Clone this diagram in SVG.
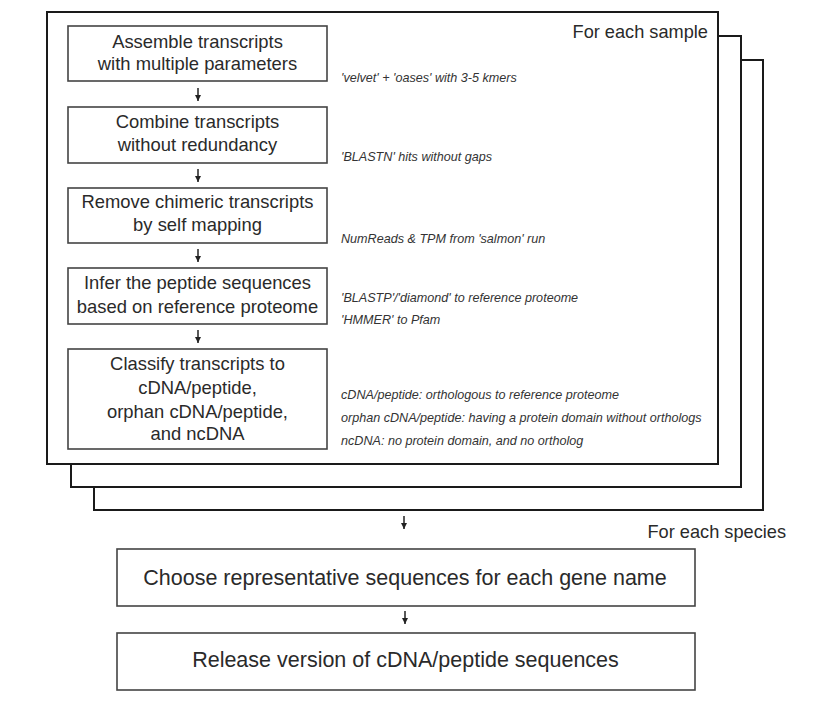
<svg xmlns="http://www.w3.org/2000/svg" width="818" height="707" viewBox="0 0 818 707">
<defs>
<marker id="ah" viewBox="0 0 10 10" refX="10" refY="5" markerWidth="7" markerHeight="6" orient="auto" markerUnits="userSpaceOnUse">
<path d="M0,0 L10,5 L0,10 z" fill="#222"/>
</marker>
</defs>
<style>
.frame{fill:#fff;stroke:#1a1a1a;stroke-width:2}
.box{fill:#fff;stroke:#444;stroke-width:1.6}
.t{font-family:"Liberation Sans",Arial,sans-serif;font-size:18.4px;fill:#2a2a2a;text-anchor:middle}
.big{font-size:21.5px}
.lbl{font-family:"Liberation Sans",Arial,sans-serif;font-size:18.2px;fill:#2a2a2a}
.n{font-family:"Liberation Sans",Arial,sans-serif;font-size:12.6px;font-style:italic;fill:#333}
.c{stroke:#222;stroke-width:1.5;fill:none;marker-end:url(#ah)}
</style>
<rect width="818" height="707" fill="#fff"/>
<g id="frame3"><rect class="frame" x="94" y="60" width="669" height="450"/></g>
<g id="frame2"><rect class="frame" x="71" y="36" width="670" height="451"/></g>
<g id="frame1"><rect class="frame" x="47" y="12" width="671" height="452"/>
<text class="lbl" x="708" y="38" text-anchor="end">For each sample</text></g>
<g id="n1"><rect class="box" x="68" y="26" width="259" height="55"/>
<text class="t" x="197.5" y="48">Assemble transcripts</text><text class="t" x="197.5" y="70">with multiple parameters</text></g>
<g id="n2"><rect class="box" x="68" y="107" width="259" height="56"/>
<text class="t" x="197.5" y="128">Combine transcripts</text><text class="t" x="197.5" y="151">without redundancy</text></g>
<g id="n3"><rect class="box" x="68" y="188" width="259" height="55"/>
<text class="t" x="197.5" y="208">Remove chimeric transcripts</text><text class="t" x="197.5" y="231">by self mapping</text></g>
<g id="n4"><rect class="box" x="68" y="268" width="259" height="56"/>
<text class="t" x="197.5" y="289">Infer the peptide sequences</text><text class="t" x="197.5" y="313">based on reference proteome</text></g>
<g id="n5"><rect class="box" x="68" y="349" width="259" height="100"/>
<text class="t" x="197.5" y="370">Classify transcripts to</text><text class="t" x="197.5" y="394">cDNA/peptide,</text><text class="t" x="197.5" y="418">orphan cDNA/peptide,</text><text class="t" x="197.5" y="440">and ncDNA</text></g>
<g id="notes">
<text class="n" x="341" y="82">'velvet' + 'oases' with 3-5 kmers</text>
<text class="n" x="341" y="161">'BLASTN' hits without gaps</text>
<text class="n" x="341" y="243">NumReads &amp; TPM from 'salmon' run</text>
<text class="n" x="341" y="302">'BLASTP'/'diamond' to reference proteome</text>
<text class="n" x="341" y="324">'HMMER' to Pfam</text>
<text class="n" x="341" y="399">cDNA/peptide: orthologous to reference proteome</text>
<text class="n" x="341" y="422">orphan cDNA/peptide: having a protein domain without orthologs</text>
<text class="n" x="341" y="445">ncDNA: no protein domain, and no ortholog</text>
</g>
<text class="lbl" x="786" y="538" text-anchor="end">For each species</text>
<g id="n6"><rect class="box" x="117" y="549" width="578" height="57"/>
<text class="t big" x="405" y="585">Choose representative sequences for each gene name</text></g>
<g id="n7"><rect class="box" x="117" y="633" width="578" height="57"/>
<text class="t big" x="405.5" y="667">Release version of cDNA/peptide sequences</text></g>
<g id="connectors">
<line class="c" x1="198" y1="88" x2="198" y2="101"/>
<line class="c" x1="198" y1="169" x2="198" y2="182"/>
<line class="c" x1="198" y1="249" x2="198" y2="262"/>
<line class="c" x1="198" y1="330" x2="198" y2="343"/>
<line class="c" x1="404" y1="516" x2="404" y2="529"/>
<line class="c" x1="405" y1="611" x2="405" y2="624"/>
</g>
</svg>
